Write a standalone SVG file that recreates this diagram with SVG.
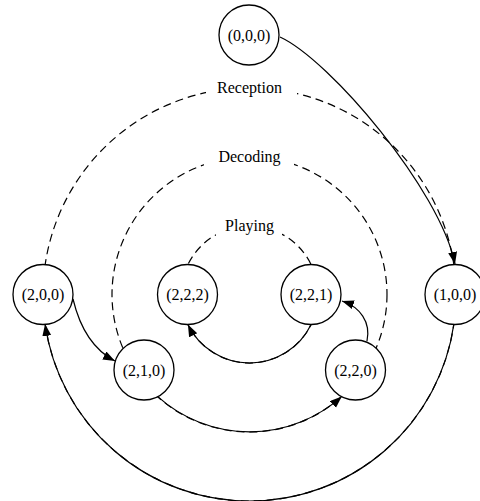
<svg xmlns="http://www.w3.org/2000/svg" width="480" height="501" viewBox="0 0 480 501">
<style>
.bg{fill:#fff}
.ring{fill:none;stroke:#000;stroke-width:1.2;stroke-dasharray:8,5}
.edge{fill:none;stroke:#000;stroke-width:1.2}
.node circle{fill:#fff;stroke:#000;stroke-width:1.3}
.lbl{font-family:'Liberation Serif','Times New Roman','DejaVu Serif',serif;font-size:16px;fill:#000;text-anchor:middle}
.mask{fill:#fff}
</style>
<defs>
<marker id="arr" markerUnits="userSpaceOnUse" markerWidth="14" markerHeight="10" refX="12" refY="4.5" orient="auto">
<path d="M0,0 L12,4.5 L0,9 z" fill="#000"/>
</marker>
</defs>
<rect class="bg" x="0" y="0" width="480" height="501"/>
<g id="rings">
<circle class="ring" cx="249.5" cy="294.5" r="206.5"/>
<circle class="ring" cx="249.5" cy="294.5" r="137.5"/>
<circle class="ring" cx="249.5" cy="294.5" r="68.5"/>
<rect class="mask" x="206" y="74" width="91" height="24"/>
<rect class="mask" x="204" y="142" width="90" height="26"/>
<rect class="mask" x="216" y="211" width="66" height="28"/>
<text class="lbl" font-family="Liberation Serif, serif" x="249.5" y="93">Reception</text>
<text class="lbl" font-family="Liberation Serif, serif" x="249.5" y="162">Decoding</text>
<text class="lbl" font-family="Liberation Serif, serif" x="249.5" y="231">Playing</text>
</g>
<g id="connectors">
<path class="edge" d="M280,37 C330,60 440,190 455,264" marker-end="url(#arr)"/>
<path class="edge" d="M73,299 Q84,345 115,361" marker-end="url(#arr)"/>
<path class="edge" d="M157.5,396.4 A137.5,137.5 0 0 0 341.8,396.4" marker-end="url(#arr)"/>
<path class="edge" d="M367,341 C371,322 360,307 342,301" marker-end="url(#arr)"/>
<path class="edge" d="M311.1,324.5 A68.5,68.5 0 0 1 187.9,324.5" marker-end="url(#arr)"/>
<path class="edge" d="M453.9,324 A206.5,206.5 0 0 1 45.1,324" marker-end="url(#arr)"/>
</g>
<g id="n000" class="node"><circle cx="249" cy="35" r="30"/><text class="lbl" font-family="Liberation Serif, serif" x="249" y="40.5">(0,0,0)</text></g>
<g id="n100" class="node"><circle cx="455" cy="294.5" r="30"/><text class="lbl" font-family="Liberation Serif, serif" x="455" y="300">(1,0,0)</text></g>
<g id="n200" class="node"><circle cx="43" cy="294.5" r="30"/><text class="lbl" font-family="Liberation Serif, serif" x="43" y="300">(2,0,0)</text></g>
<g id="n222" class="node"><circle cx="187.5" cy="294.5" r="30"/><text class="lbl" font-family="Liberation Serif, serif" x="187.5" y="300">(2,2,2)</text></g>
<g id="n221" class="node"><circle cx="311" cy="294.5" r="30"/><text class="lbl" font-family="Liberation Serif, serif" x="311" y="300">(2,2,1)</text></g>
<g id="n210" class="node"><circle cx="144" cy="370" r="30"/><text class="lbl" font-family="Liberation Serif, serif" x="144" y="375.5">(2,1,0)</text></g>
<g id="n220" class="node"><circle cx="355.5" cy="370" r="30"/><text class="lbl" font-family="Liberation Serif, serif" x="355.5" y="375.5">(2,2,0)</text></g>
</svg>
